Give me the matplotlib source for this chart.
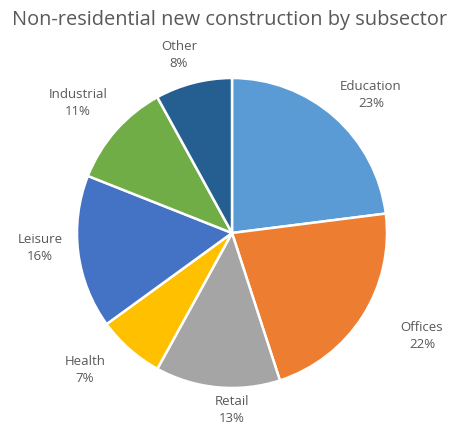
import matplotlib
matplotlib.use("Agg")
import matplotlib.pyplot as plt

categories = ["Education", "Offices", "Retail", "Health", "Leisure", "Industrial", "Other"]
shares = [23, 22, 13, 7, 16, 11, 8]
colors = ["#5B9BD5", "#ED7D31", "#A5A5A5", "#FFC000", "#4472C4", "#70AD47", "#255E91"]

plt.rcParams["font.family"] = ["Open Sans", "DejaVu Sans"]
text_color = "#595959"

W, H = 450, 430
fig = plt.figure(figsize=(W / 100, H / 100), dpi=100)
ax = fig.add_axes([0, 0, 1, 1])

labels = [f"{c}\n{v}%" for c, v in zip(categories, shares)]
wedges, texts = ax.pie(
    shares,
    labels=labels,
    colors=colors,
    startangle=90,
    counterclock=False,
    center=(232, H - 233),
    radius=155,
    wedgeprops=dict(edgecolor="white", linewidth=1.8),
    textprops=dict(color=text_color, fontsize=9.5, ha="center", va="center",
                   linespacing=1.35),
    frame=True,
)
ax.set_xlim(0, W)
ax.set_ylim(0, H)
ax.axis("off")

# label placement (pixel positions measured from top-left)
label_pos = [(371, 95), (422, 336), (232, 410), (85, 370), (40, 248), (78, 103), (179, 55)]
for t, (x, y) in zip(texts, label_pos):
    t.set_position((x, H - y))
    t.set_ha("center")
    t.set_va("center")

fig.text(0.5 + 5 / W, 1 - 20 / H, "Non-residential new construction by subsector",
         ha="center", va="center", fontsize=14.4, color=text_color)

fig.savefig("out.png", dpi=100, facecolor="white")
